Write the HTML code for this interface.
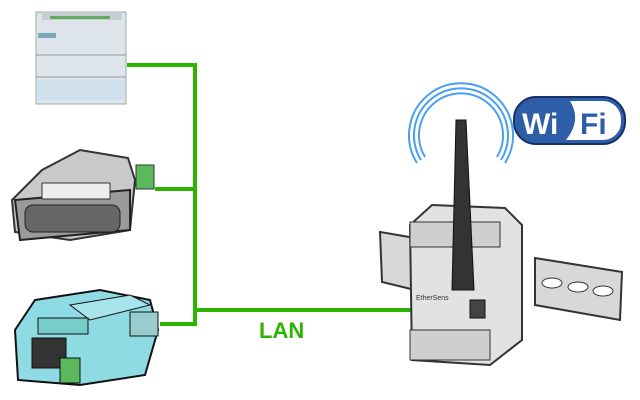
<!DOCTYPE html>
<html><head><style>body{margin:0;background:#fff}svg{display:block}</style></head><body>
<svg width="640" height="400" viewBox="0 0 640 400" xmlns="http://www.w3.org/2000/svg" font-family="Liberation Sans, sans-serif">
<!-- PLC -->
<rect x="36" y="12" width="90" height="92" fill="#dde4ea" stroke="#9aa" />
<rect x="42" y="12" width="80" height="8" fill="#c7cdd2"/>
<rect x="50" y="16" width="60" height="3" fill="#6a6"/>
<rect x="38" y="33" width="18" height="5" fill="#7ab"/>
<line x1="36" y1="55" x2="126" y2="55" stroke="#999"/>
<line x1="36" y1="77" x2="126" y2="77" stroke="#999"/>
<rect x="38" y="80" width="86" height="20" fill="#cfe0ec"/>
<!-- device 2 -->
<polygon points="42,170 80,150 128,158 135,180 130,230 70,240 15,232 12,200" fill="#c9c9c9" stroke="#333" stroke-width="2"/>
<polygon points="15,200 130,190 130,230 20,240" fill="#9a9a9a" stroke="#222" stroke-width="2"/>
<rect x="25" y="205" width="95" height="27" rx="8" fill="#666" stroke="#222"/>
<rect x="42" y="183" width="68" height="16" fill="#eee" stroke="#333"/>
<rect x="136" y="165" width="18" height="24" fill="#5cb85c" stroke="#333"/>
<!-- device 3 -->
<polygon points="35,300 100,290 150,300 158,330 145,375 80,385 18,380 15,330" fill="#8edbe4" stroke="#111" stroke-width="2"/>
<polygon points="70,305 130,295 150,305 90,320" fill="#a8e4ec" stroke="#111"/>
<rect x="38" y="318" width="50" height="16" fill="#7cc" stroke="#111"/>
<rect x="32" y="338" width="34" height="30" fill="#333" stroke="#111"/>
<rect x="60" y="358" width="20" height="25" fill="#5cb85c" stroke="#111"/>
<rect x="130" y="312" width="28" height="24" fill="#9cc" stroke="#111"/>
<!-- green lines -->
<g stroke="#2db400" stroke-width="4" fill="none">
<polyline points="127,65 195,65 195,324 160,324"/>
<line x1="155" y1="189" x2="195" y2="189"/>
<line x1="195" y1="310" x2="472" y2="310"/>
</g>
<text x="259" y="338" font-size="22" fill="#2db400" font-weight="bold">LAN</text>
<!-- rails -->
<polygon points="380,232 415,238 415,290 382,282" fill="#d8d8d8" stroke="#333" stroke-width="2"/>
<polygon points="535,258 622,272 620,320 535,305" fill="#d8d8d8" stroke="#333" stroke-width="2"/>
<ellipse cx="552" cy="283" rx="10" ry="5" fill="#fff" stroke="#333"/>
<ellipse cx="578" cy="287" rx="10" ry="5" fill="#fff" stroke="#333"/>
<ellipse cx="603" cy="291" rx="10" ry="5" fill="#fff" stroke="#333"/>
<!-- module -->
<polygon points="432,205 505,208 522,225 522,340 490,365 412,360 410,225" fill="#e2e2e2" stroke="#333" stroke-width="2"/>
<rect x="410" y="222" width="90" height="25" fill="#cfcfcf" stroke="#333"/>
<rect x="410" y="330" width="80" height="30" fill="#cfcfcf" stroke="#333"/>
<rect x="470" y="300" width="15" height="18" fill="#444" stroke="#111"/>
<text x="416" y="300" font-size="7" fill="#333">EtherSens</text>
<!-- antenna -->
<polygon points="456,120 466,120 474,290 452,290" fill="#333" stroke="#111"/>
<!-- arcs -->
<g fill="none" stroke="#4a9ff0" stroke-width="2">
<path d="M425,157 A42,42 0 1 1 497,157"/>
<path d="M421,160 A47,47 0 1 1 501,160"/>
<path d="M417,163 A52,52 0 1 1 505,163"/>
</g>
<!-- wifi logo -->
<rect x="514" y="97" width="111" height="47" rx="22" fill="#2f5ea8" stroke="#16306a" stroke-width="2"/>
<path d="M570,101 H603 A18,18 0 0 1 621,119 V122 A18,18 0 0 1 603,140 H566 Q582,120 570,101Z" fill="#fff"/>
<text x="522" y="134" font-size="30" font-weight="bold" fill="#fff">Wi</text>
<text x="580" y="134" font-size="30" font-weight="bold" fill="#2f5ea8">Fi</text>
</svg>
</body></html>
